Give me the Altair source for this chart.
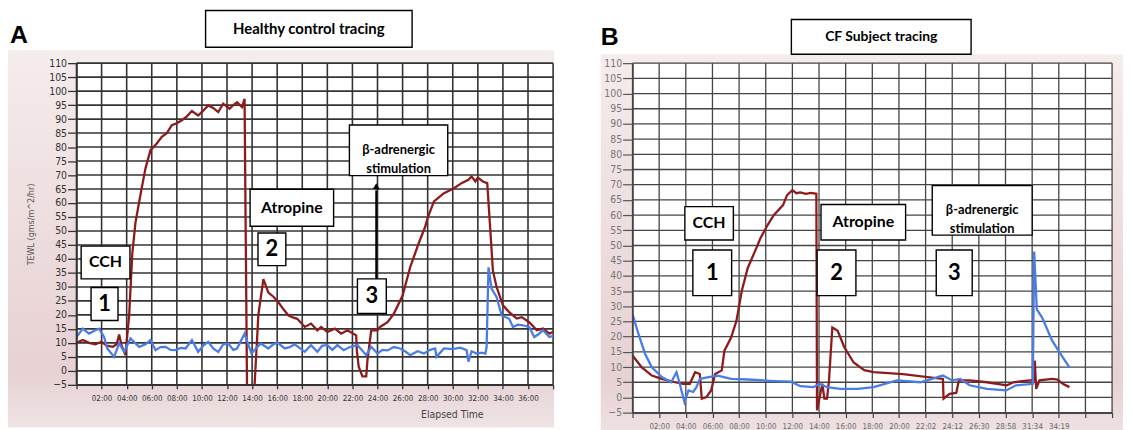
import altair as alt
import pandas as pd

# ---------------- data ----------------
# Panel A - healthy control: time in minutes, TEWL values
a_red_t = [0, 0.5, 1.0, 1.5, 2.0, 2.4, 2.9, 3.2, 3.4, 3.6, 3.9, 4.2, 4.45, 4.7, 5.1, 5.5, 5.9, 6.4, 6.8, 7.2,
           7.6, 8.0, 8.4, 8.8, 9.2, 9.7, 10.1, 10.5, 10.9, 11.3, 11.7, 12.2, 12.5, 12.8, 13.2, 13.4, 13.6, 14.0,
           14.2, 14.5, 14.9, 15.3, 15.7, 16.1, 16.5, 16.9, 17.3, 17.6, 18.2, 18.7, 19.2, 19.5, 20.0, 20.6, 21.1,
           21.6, 22.3, 22.35, 22.5, 22.8, 23.1, 23.2, 23.5, 24.0, 24.2, 24.8, 25.3, 26.0, 26.6, 27.3, 27.8, 28.0,
           28.5, 29.3, 30.1, 30.7, 31.25, 31.5, 31.8, 32.0, 32.4, 32.75, 33.0, 33.2, 33.5, 34.0, 34.5, 35.1, 35.5,
           36.1, 36.7, 37.2, 37.7, 38.0]
a_red_v = [10, 11, 10, 9.5, 10.4, 9, 8.6, 9.5, 13, 9, 5.6, 20, 42, 53, 63, 72.4, 78.9, 81.3, 83.7, 85,
           87.8, 88.5, 89.6, 91, 92.9, 91.3, 93, 94.9, 94, 92.5, 95.5, 93.7, 95, 96, 94.3, 97.2, -8, -8,
           -5, 20, 32.8, 28, 26.5, 24.5, 22, 19.8, 19, 18.6, 15.7, 16.9, 14.5, 15.7, 13.9, 15.1, 13.3,
           14.5, 12.7, 7.4, 1.5, -2, -2, 3.9, 14.5, 14.5, 15.7, 17.4, 20.4, 26.9, 37, 45.8, 51.5, 54.7,
           60.6, 63.5, 65.3, 67.1, 68.3, 69.5, 67.7, 69.1, 67.7, 67.1, 50, 35.8, 29.9, 23.4, 21, 18.7, 19.2,
           17.4, 14.5, 15.1, 13.3, 14]
a_blue_t = [0, 0.5, 1.0, 1.5, 1.8, 2.2, 2.45, 3.0, 3.4, 3.8, 4.3, 5.0, 5.5, 5.9, 6.3, 6.7, 7.1, 7.5, 7.9, 8.3,
            8.7, 9.2, 9.7, 10.1, 10.5, 10.9, 11.3, 11.7, 12.1, 12.5, 12.8, 13.4, 13.95, 14.3, 14.7, 15.3, 15.7,
            16.05, 16.6, 17.0, 17.4, 18.2, 18.7, 19.2, 19.6, 20.0, 20.4, 20.8, 21.3, 21.8, 22.4, 23.1, 23.5,
            24.0, 24.4, 24.8, 25.3, 25.8, 26.2, 26.6, 27.2, 27.7, 28.2, 28.6, 28.7, 29.3, 30.0, 30.6, 31.1,
            31.25, 31.5, 31.9, 32.3, 32.6, 32.7, 32.85, 33.1, 33.5, 33.9, 34.5, 34.8, 35.2, 35.6, 36.1, 36.5,
            36.8, 37.2, 37.7, 38.0]
a_blue_v = [12.1, 15.1, 13.3, 14.5, 15.1, 12.1, 8, 5, 9.8, 6.8, 11.6, 8.6, 9.5, 11, 7.4, 8.5, 8.6, 7.5, 7.4, 8.2,
            8, 11, 6.8, 9, 10.4, 8, 6.8, 9.5, 9.8, 7.5, 8, 13.3, 6.2, 8, 9.8, 8, 9.5,
            10, 8, 8.5, 9.5, 6.8, 9.2, 6.8, 9, 9.2, 7.5, 9.2, 7.4, 8.5, 9.2, 5.6, 8.6,
            6.2, 7.5, 7.3, 8.5, 8, 7, 5.6, 7, 6.2, 7.5, 8, 5, 8, 7.8, 8.3, 7.4,
            3.3, 7, 6.2, 6.5, 6.2, 8.6, 37, 29.3, 26.3, 19.8, 18.6, 15.7, 16.5, 16.3, 15.7, 12.1,
            13, 14.5, 12.1, 12.5]

# Panel B - CF subject
b_red_t = [0, 0.7, 1.45, 2.2, 3.2, 3.8, 4.3, 4.7, 5.05, 5.2, 5.55, 5.9, 6.2, 6.7, 6.9, 7.4, 7.8, 8.2, 8.65, 9.3,
           9.6, 10.15, 10.6, 11.3, 11.6, 12.0, 12.3, 12.6, 13.0, 13.4, 13.8, 13.85, 14.0, 14.25, 14.4, 14.6,
           14.75, 15.0, 15.4, 15.9, 16.6, 17.4, 18.1, 20.3, 23.3, 23.35, 23.8, 24.3, 24.5, 25.3, 26.6, 28.1,
           28.6, 29.8, 30.15, 30.2, 30.3, 30.55, 31.5, 31.9, 32.3, 32.8]
b_red_v = [13.8, 9.9, 7.2, 6.1, 5, 4.5, 4.5, 8.3, 7.7, -0.4, 0.1, 2.3, 7.7, 8.9, 15.4, 19.7, 25.2, 35, 42.6, 49.2,
           52.4, 56.8, 60, 63.3, 66.6, 68.2, 67.2, 67.5, 67, 67.3, 67, -4.2, -1, 4.5, -0.4, -0.4,
           5.6, 23, 21.9, 16.5, 11.5, 9, 8.3, 7.7, 6.1, -0.4, 1.2, 1.5, 5.6, 5.6, 5, 4,
           5, 5.6, 5.6, 12.1, 2.8, 5.6, 6.1, 5.9, 4.5, 3.4]
b_blue_t = [0, 0.45, 0.95, 1.45, 2.2, 2.9, 3.3, 3.55, 3.7, 3.9, 4.2, 4.55, 4.8, 5.05, 5.7, 6.4, 7.4, 8.65, 10.65,
            11.9, 12.6, 13.6, 14.0, 14.6, 15.6, 16.9, 18.1, 19.85, 21.6, 23.3, 24.0, 24.6, 25.3, 26.6, 28.05,
            28.8, 30.05, 30.15, 30.35, 30.75, 31.5, 32.3, 32.8]
b_blue_v = [27.4, 20.8, 14.3, 9.9, 6.7, 5, 8.3, 4.5, 1.8, -1.5, 2.3, 1.8, 3.4, 6.1, 6.7, 7.2, 6.1, 5.9, 5.4,
            5.2, 3.7, 3.4, 4.5, 3.4, 2.8, 2.8, 3.4, 5.6, 5, 7.2, 5.6, 6.1, 4, 2.8, 2.3,
            4, 4.5, 48, 29, 26.3, 18.7, 13.2, 9.9]

# ticks and labels
y_ticks = [-5, 0, 5, 10, 15, 20, 25, 30, 35, 40, 45, 50, 55, 60, 65, 70, 75, 80, 85, 90, 95, 100, 105, 110]
a_x_ticks = [0, 2, 4, 6, 8, 10, 12, 14, 16, 18, 20, 22, 24, 26, 28, 30, 32, 34, 36, 38]
b_x_ticks = [0, 2, 4, 6, 8, 10, 12, 14, 16, 18, 20, 22, 24, 26, 28, 30, 32, 34, 36]
b_x_labels = ["", "02:00", "04:00", "06:00", "08:00", "10:00", "12:00", "14:00", "16:00", "18:00",
              "20:00", "22:02", "24:12", "26:30", "28:58", "31:34", "34:19", "", ""]

# texts
title_a = "Healthy control tracing"
title_b = "CF Subject tracing"
y_title_a = "TEWL (gms/m^2/hr)"
x_title_a = "Elapsed Time"
beta_text = ["\u03b2-adrenergic", "stimulation"]

# ---------------- style ----------------
RED = "#8e1b1b"
BLUE = "#4a7ce8"
NARROW = "Liberation Sans Narrow, DejaVu Sans Condensed, Arial Narrow, sans-serif"
BOLD = "Lato, Open Sans, sans-serif"
one = pd.DataFrame({"k": [0]})

W_A, H_A = 480, 324
W_B, H_B = 483, 352


def frame_fill():
    return alt.Gradient(
        gradient="linear", x1=0, y1=0, x2=0, y2=1,
        stops=[alt.GradientStop(offset=0, color="#f5ecec"),
               alt.GradientStop(offset=0.85, color="#e7d1d3"),
               alt.GradientStop(offset=1, color="#efe3e4")])


def dbox(x1, x2, y1, y2, text, size, sw=1.4):
    r = alt.Chart(one).mark_rect(fill="white", stroke="black", strokeWidth=sw).encode(
        x=alt.datum(x1), x2=alt.datum(x2), y=alt.datum(y1), y2=alt.datum(y2))
    t = alt.Chart(one).mark_text(text=text, font=BOLD, fontWeight="bold", fontSize=size, color="black",
                                 align="center", baseline="middle", lineHeight=size * 1.45).encode(
        x=alt.datum((x1 + x2) / 2), y=alt.datum((y1 + y2) / 2))
    return [r, t]


def pbox(x1, x2, y1, y2, text, size, sw=1.4):
    r = alt.Chart(one).mark_rect(fill="white", stroke="black", strokeWidth=sw).encode(
        x=alt.value(x1), x2=alt.value(x2), y=alt.value(y1), y2=alt.value(y2))
    t = alt.Chart(one).mark_text(text=text, font=BOLD, fontWeight="bold", fontSize=size, color="black",
                                 align="center", baseline="middle").encode(
        x=alt.value((x1 + x2) / 2), y=alt.value((y1 + y2) / 2))
    return [r, t]


def series_df(ts, vs):
    return pd.DataFrame({"t": ts, "v": vs, "i": list(range(len(ts)))})


def panel(W, H, xmax, x_ticks, xaxis, yaxis, red_t, red_v, blue_t, blue_v, gcol, gw, frame, extras):
    X = alt.X("t:Q", scale=alt.Scale(domain=[0, xmax], nice=False, zero=False), axis=xaxis)
    Y = alt.Y("v:Q", scale=alt.Scale(domain=[-5, 110], nice=False, zero=False), axis=yaxis)
    fx1, fx2, fy1, fy2 = frame
    bg = alt.Chart(one).mark_rect(fill=frame_fill()).encode(
        x=alt.value(fx1), x2=alt.value(fx2), y=alt.value(fy1), y2=alt.value(fy2))
    white = alt.Chart(one).mark_rect(fill="white").encode(
        x=alt.value(0), x2=alt.value(W), y=alt.value(0), y2=alt.value(H))
    vgrid = alt.Chart(pd.DataFrame({"t": x_ticks})).mark_rule(color=gcol, strokeWidth=gw).encode(x=X)
    hgrid = alt.Chart(pd.DataFrame({"v": y_ticks})).mark_rule(color=gcol, strokeWidth=gw).encode(y=Y)
    red = alt.Chart(series_df(red_t, red_v)).mark_line(color=RED, strokeWidth=2.3, clip=True).encode(
        x=X, y=Y, order="i:Q")
    blue = alt.Chart(series_df(blue_t, blue_v)).mark_line(color=BLUE, strokeWidth=2.3, clip=True).encode(
        x=X, y=Y, order="i:Q")
    return alt.layer(bg, white, vgrid, hgrid, red, blue, *extras).properties(width=W, height=H)


# ---------------- panel A ----------------
xaxis_a = alt.Axis(values=a_x_ticks, tickCount=200, title=x_title_a, grid=False,
                   labelExpr="datum.value == 0 || datum.value == 38 ? '' : (datum.value < 10 ? '0' : '') + datum.value + ':00'",
                   domainColor="#333", domainWidth=1.5, tickColor="#333", tickSize=4, tickWidth=1.3,
                   labelFont=NARROW, labelFontSize=8, labelColor="#333", labelPadding=6,
                   labelFlush=False, labelOverlap=False,
                   titleFont=NARROW, titleFontSize=10.5, titleFontWeight="normal", titleColor="#444",
                   titleX=378, titleY=30, titleBaseline="middle", zindex=1)
yaxis_a = alt.Axis(values=y_ticks, tickCount=200, format="d", title=y_title_a, grid=False,
                   domainColor="#333", domainWidth=1.5, tickColor="#333", tickSize=9, tickWidth=1.3,
                   labelFont=NARROW, labelFontSize=10.5, labelColor="#333", labelPadding=1, labelOverlap=False,
                   titleFont=NARROW, titleFontSize=9, titleFontWeight="normal", titleColor="#555",
                   titleX=-46, titleBaseline="middle", zindex=1)

extras_a = []
extras_a += dbox(0.37, 4.26, 44.6, 32.9, "CCH", 16)
extras_a += dbox(1.16, 3.31, 29.8, 18.0, "1", 22)
extras_a += dbox(13.84, 20.5, 64.9, 51.7, "Atropine", 16)
extras_a += dbox(14.47, 16.69, 49.3, 37.6, "2", 22)
extras_a += dbox(22.4, 24.7, 32.9, 20.5, "3", 22)
extras_a += dbox(21.76, 29.6, 87.9, 69.8, beta_text, 13)
extras_a.append(alt.Chart(one).mark_rule(color="black", strokeWidth=2).encode(
    x=alt.datum(23.9), y=alt.datum(32.9), y2=alt.datum(64.5)))
extras_a.append(alt.Chart(one).mark_point(shape="triangle-up", filled=True, color="black", size=50, opacity=1).encode(
    x=alt.datum(23.9), y=alt.datum(66)))
extras_a += pbox(130, 338, -53, -16, title_a, 15)
extras_a.append(alt.Chart(one).mark_text(text="A", font="Liberation Sans, Arial, sans-serif", fontWeight="bold",
                                         fontSize=25, align="left", baseline="alphabetic", color="black").encode(
    x=alt.value(-67), y=alt.value(-20)))

panel_a = panel(W_A, H_A, 38, a_x_ticks, xaxis_a, yaxis_a, a_red_t, a_red_v, a_blue_t, a_blue_v,
                "#333333", 1.6, (-69, 481, -13, 367), extras_a)

# ---------------- panel B ----------------
b_label_js = "[" + ",".join("'" + s + "'" for s in b_x_labels) + "][round(datum.value / 2)]"
xaxis_b = alt.Axis(values=b_x_ticks, tickCount=200, title=None, grid=False, labelExpr=b_label_js,
                   domainColor="#444", domainWidth=1.5, tickColor="#444", tickSize=5, tickWidth=1.2,
                   labelFont=NARROW, labelFontSize=8, labelColor="#666", labelPadding=5,
                   labelFlush=False, labelOverlap=False, zindex=1)
yaxis_b = alt.Axis(values=y_ticks, tickCount=200, format="d", title=None, grid=False,
                   domainColor="#444", domainWidth=1.5, tickColor="#555", tickSize=10, tickWidth=1.2,
                   labelFont=NARROW, labelFontSize=10.5, labelColor="#777", labelPadding=1, labelOverlap=False,
                   zindex=1)

extras_b = []
extras_b += dbox(3.93, 7.57, 62.8, 51.8, "CCH", 16)
extras_b += dbox(4.53, 7.44, 48.5, 33.5, "1", 22)
extras_b += dbox(14.15, 20.5, 63.5, 51.8, "Atropine", 16)
extras_b += dbox(13.86, 16.77, 48.5, 33.5, "2", 22)
extras_b += dbox(22.8, 25.5, 48.5, 33.5, "3", 22)
extras_b += dbox(22.5, 30.0, 69.7, 53.4, beta_text, 13)
extras_b += pbox(160, 341, -44, -9, title_b, 14)
extras_b.append(alt.Chart(one).mark_text(text="B", font="Liberation Sans, Arial, sans-serif", fontWeight="bold",
                                         fontSize=25, align="left", baseline="alphabetic", color="black").encode(
    x=alt.value(-32), y=alt.value(-18)))
extras_b.append(alt.Chart(one).mark_rule(strokeOpacity=0).encode(
    x=alt.value(0), x2=alt.value(1), y=alt.value(-46), y2=alt.value(-45)))

panel_b = panel(W_B, H_B, 36, b_x_ticks, xaxis_b, yaxis_b, b_red_t, b_red_v, b_blue_t, b_blue_v,
                "#444444", 1.3, (-32, 494, -9, 376), extras_b)

chart = alt.hconcat(panel_a, panel_b, spacing=47).properties(
    padding={"left": 0, "top": 0, "right": 0, "bottom": 0}, background="white"
).configure_view(stroke=None).configure_axis(labelOverlap=False)

chart.save("out.html", embed_options={"renderer": "svg", "actions": False})
